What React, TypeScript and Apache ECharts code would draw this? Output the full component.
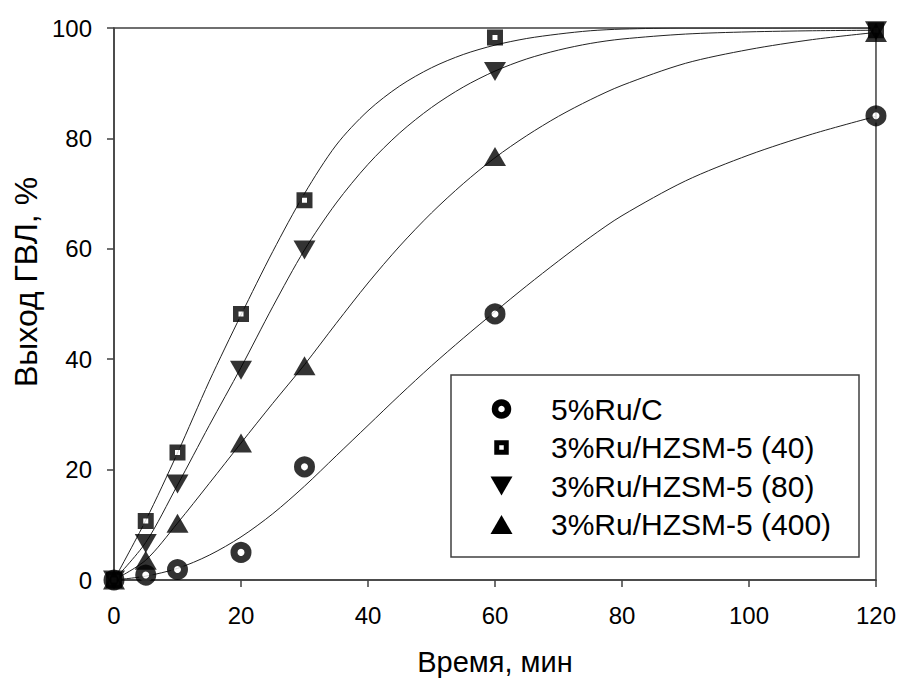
import React, { useEffect, useRef } from "react";
import * as echarts from "echarts";

// Measured points
const timeX = [0, 5, 10, 20, 30, 60, 120];
const ruC = [0, 0.9, 1.9, 5.0, 20.5, 48.2, 84.1];
const hz40 = [0, 10.7, 23.1, 48.2, 68.8, 98.3, 99.6];
const hz80 = [0, 6.6, 17.4, 38.0, 59.8, 92.1, 99.5];
const hz400 = [0, 3.6, 10.3, 24.8, 38.8, 76.7, 99.2];

// Fitted curves
const fitX = [0, 5, 10, 15, 20, 25, 30, 35, 40, 45, 50, 55, 60, 65, 70, 75, 80, 90, 100, 110, 120];
const fitRuC = [0, 0.7, 2.1, 4.5, 7.8, 12, 17, 22.5, 28, 33.5, 38.8, 43.8, 48.6, 53.3, 57.8, 62.1, 66, 72.3, 77, 80.8, 84];
const fit40 = [0, 10.8, 23, 36, 48, 59.5, 70, 78.8, 85, 89.5, 92.8, 95.2, 96.9, 98.1, 98.9, 99.5, 99.8, 100, 100, 100, 100];
const fit80 = [0, 6.8, 17.2, 28, 38.5, 49.5, 59.8, 68.3, 75.3, 81, 85.6, 89.3, 92.2, 94.4, 96, 97.2, 98, 98.9, 99.3, 99.5, 99.6];
const fit400 = [0, 3.6, 10.3, 17.5, 24.8, 32, 39, 46.5, 53.8, 60.5, 66.5, 71.8, 76.5, 80.5, 84, 87, 89.6, 93.6, 96.1, 97.9, 99.2];

const seriesNames = ["5%Ru/C", "3%Ru/HZSM-5 (40)", "3%Ru/HZSM-5 (80)", "3%Ru/HZSM-5 (400)"];
const xTicks = [0, 20, 40, 60, 80, 100, 120];
const xTitle = "Время, мин";
const yTitle = "Выход ГВЛ, %";

const FONT = "'Liberation Sans', Arial, sans-serif";
const AXIS = "#404040";

const pairs = (xs: number[], ys: number[]) => xs.map((x, i) => [x, ys[i]]);

export default function App() {
  const ref = useRef<HTMLDivElement>(null);
  useEffect(() => {
    document.body.style.margin = "0";
    const chart = echarts.init(ref.current!, null, { renderer: "svg" });

    const markerStyles: any[] = [
      { symbol: "circle", symbolSize: 14, symbolRotate: 0, itemStyle: { color: "#fff", borderColor: "#000", borderWidth: 7 } },
      { symbol: "rect", symbolSize: 10.5, symbolRotate: 0, itemStyle: { color: "#fff", borderColor: "#000", borderWidth: 5.5 } },
      { symbol: "triangle", symbolSize: [22, 19], symbolRotate: 180, itemStyle: { color: "#000" } },
      { symbol: "triangle", symbolSize: [22, 19], symbolRotate: 0, itemStyle: { color: "#000" } },
    ];
    const pts = [ruC, hz40, hz80, hz400];
    const fits = [fitRuC, fit40, fit80, fit400];

    const lineSeries = fits.map((f, i) => ({
      type: "line",
      name: seriesNames[i] + " fit",
      data: pairs(fitX, f),
      smooth: 0.3,
      showSymbol: false,
      symbol: "none",
      lineStyle: { color: "#222", width: 1 },
      z: 2,
      silent: true,
    }));
    const scatterSeries = pts.map((p, i) => ({
      type: "scatter",
      name: seriesNames[i],
      data: pairs(timeX, p),
      clip: false,
      z: 3,
      ...markerStyles[i],
    }));

    // Legend drawn as graphic
    const lgLeft = 451, lgTop = 375, lgW = 408, lgH = 182;
    const rowY = [409, 447.5, 486, 524.5];
    const mx = 501.5;
    const legendEls: any[] = [
      { type: "rect", shape: { x: lgLeft, y: lgTop, width: lgW, height: lgH }, style: { fill: "#fff", stroke: AXIS, lineWidth: 1.5 }, z: 10 },
    ];
    rowY.forEach((cy, i) => {
      let m: any;
      if (i === 0) m = { type: "circle", shape: { cx: mx, cy, r: 6.5 }, style: { fill: "#fff", stroke: "#000", lineWidth: 6.5 } };
      else if (i === 1) m = { type: "rect", shape: { x: mx - 4.75, y: cy - 4.75, width: 9.5, height: 9.5 }, style: { fill: "#fff", stroke: "#000", lineWidth: 5 } };
      else if (i === 2) m = { type: "polygon", shape: { points: [[mx - 11, cy - 9.5], [mx + 11, cy - 9.5], [mx, cy + 9.5]] }, style: { fill: "#000" } };
      else m = { type: "polygon", shape: { points: [[mx - 11, cy + 9.5], [mx + 11, cy + 9.5], [mx, cy - 9.5]] }, style: { fill: "#000" } };
      m.z = 11;
      legendEls.push(m);
      legendEls.push({
        type: "text",
        x: 551,
        y: cy,
        z: 11,
        style: { text: seriesNames[i], fill: "#000", font: `30px ${FONT}`, verticalAlign: "middle", align: "left" },
      });
    });

    const option: any = {
      animation: false,
      backgroundColor: "#fff",
      grid: { left: 114, right: 22, top: 28, bottom: 102, show: true, borderColor: AXIS, borderWidth: 1.5, backgroundColor: "transparent" },
      xAxis: {
        type: "value",
        min: 0,
        max: 120,
        interval: 20,
        name: xTitle,
        nameLocation: "middle",
        nameGap: 67,
        nameTextStyle: { fontFamily: FONT, fontSize: 29, color: "#000" },
        axisLine: { lineStyle: { color: AXIS, width: 1.5 } },
        axisTick: { show: true, length: 7, lineStyle: { color: AXIS, width: 1.5 } },
        axisLabel: { margin: 23, fontFamily: FONT, fontSize: 24, color: "#000", formatter: (v: number) => (xTicks.includes(v) ? String(v) : "") },
        splitLine: { show: false },
      },
      yAxis: {
        type: "value",
        min: 0,
        max: 100,
        interval: 20,
        axisLine: { show: true, lineStyle: { color: AXIS, width: 1.5 } },
        axisTick: { show: true, length: 7, lineStyle: { color: AXIS, width: 1.5 } },
        axisLabel: { margin: 22, fontFamily: FONT, fontSize: 24, color: "#000" },
        splitLine: { show: false },
      },
      graphic: [
        {
          type: "text",
          x: 26,
          y: 282,
          rotation: Math.PI / 2,
          style: { text: yTitle, fill: "#000", font: `32px ${FONT}`, align: "center", verticalAlign: "middle" },
        },
        ...legendEls,
      ],
      series: [...lineSeries, ...scatterSeries],
    };
    chart.setOption(option);
    return () => chart.dispose();
  }, []);
  return <div ref={ref} style={{ position: "absolute", left: 0, top: 0, width: 899, height: 682 }} />;
}
